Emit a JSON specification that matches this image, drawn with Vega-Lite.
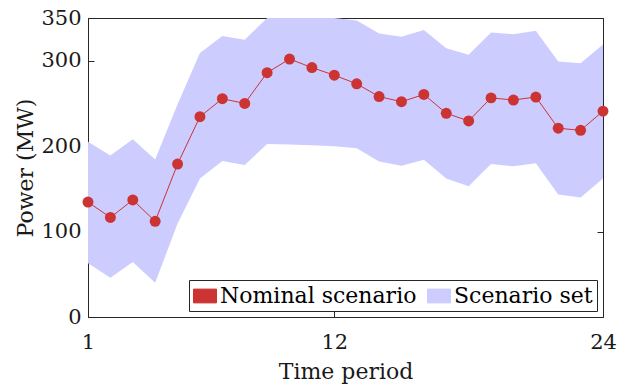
{
  "$schema": "https://vega.github.io/schema/vega-lite/v6.json",
  "autosize": "none",
  "width": 515,
  "height": 299,
  "padding": {"left": 88, "top": 18, "right": 15, "bottom": 70},
  "background": "white",
  "config": {
    "view": {"stroke": null},
    "font": "DejaVu Serif",
    "axis": {
      "grid": false,
      "domainColor": "#262626",
      "domainWidth": 1,
      "tickColor": "#262626",
      "tickWidth": 1,
      "tickSize": -6,
      "labelColor": "#1a1a1a",
      "labelFont": "DejaVu Serif",
      "labelFontSize": 21,
      "titleFont": "DejaVu Serif",
      "titleFontSize": 22,
      "titleFontWeight": "normal",
      "titleColor": "#1a1a1a",
      "zindex": 1
    },
    "legend": {
      "orient": "bottom-right",
      "offset": 6,
      "direction": "horizontal",
      "padding": 4,
      "strokeColor": "#262626",
      "fillColor": "white",
      "labelFont": "DejaVu Serif",
      "labelFontSize": 22,
      "labelColor": "black",
      "labelLimit": 400,
      "labelOffset": 3,
      "columnPadding": 8,
      "symbolSize": 529,
      "symbolStrokeWidth": 1,
      "symbolType": "M-1,-0.6H1V0.6H-1Z"
    }
  },
  "data": {
    "values": [
      {"t": 1, "nominal": 134.5, "lo": 63, "hi": 205},
      {"t": 2, "nominal": 116.5, "lo": 46, "hi": 189},
      {"t": 3, "nominal": 137, "lo": 64.5, "hi": 208},
      {"t": 4, "nominal": 112, "lo": 40, "hi": 184.5},
      {"t": 5, "nominal": 179, "lo": 109.5, "hi": 249},
      {"t": 6, "nominal": 234.5, "lo": 162, "hi": 309},
      {"t": 7, "nominal": 255.5, "lo": 182.5, "hi": 329},
      {"t": 8, "nominal": 250, "lo": 178, "hi": 324.5},
      {"t": 9, "nominal": 286, "lo": 202.5, "hi": 350},
      {"t": 10, "nominal": 302, "lo": 202, "hi": 350},
      {"t": 11, "nominal": 292, "lo": 201, "hi": 350},
      {"t": 12, "nominal": 283, "lo": 200, "hi": 350},
      {"t": 13, "nominal": 273, "lo": 197.5, "hi": 347},
      {"t": 14, "nominal": 258, "lo": 182, "hi": 332},
      {"t": 15, "nominal": 252, "lo": 177, "hi": 328},
      {"t": 16, "nominal": 260.5, "lo": 184, "hi": 336},
      {"t": 17, "nominal": 238.5, "lo": 162, "hi": 314.5},
      {"t": 18, "nominal": 229.5, "lo": 153, "hi": 307},
      {"t": 19, "nominal": 256.5, "lo": 179, "hi": 333},
      {"t": 20, "nominal": 254, "lo": 176.5, "hi": 331},
      {"t": 21, "nominal": 257.5, "lo": 180, "hi": 335},
      {"t": 22, "nominal": 221, "lo": 143.5, "hi": 299},
      {"t": 23, "nominal": 218.5, "lo": 140, "hi": 297},
      {"t": 24, "nominal": 241, "lo": 162, "hi": 319}
    ]
  },
  "resolve": {"axis": {"x": "independent", "y": "independent"}},
  "layer": [
    {
      "mark": {"type": "area", "clip": true, "opacity": 1},
      "encoding": {
        "x": {
          "field": "t", "type": "quantitative",
          "scale": {"domain": [1, 24], "nice": false, "zero": false},
          "axis": {"orient": "bottom", "values": [1, 12, 24], "title": "Time period", "labelPadding": 20, "titlePadding": 9, "labelFlush": false}
        },
        "y": {
          "field": "lo", "type": "quantitative",
          "scale": {"domain": [0, 350], "nice": false},
          "axis": {"orient": "left", "values": [0, 100, 200, 300, 350], "title": "Power (MW)", "labelPadding": 13, "titlePadding": 3, "labelFlush": false}
        },
        "y2": {"field": "hi"},
        "color": {
          "datum": "Scenario set",
          "scale": {"domain": ["Nominal scenario", "Scenario set"], "range": ["#cc3333", "#ccccff"]},
          "legend": {"title": null}
        }
      }
    },
    {
      "mark": {"type": "line", "strokeWidth": 1, "point": {"filled": true, "size": 120, "opacity": 1}},
      "encoding": {
        "x": {
          "field": "t", "type": "quantitative",
          "axis": {"orient": "top", "values": [1, 12, 24], "labels": false, "title": null}
        },
        "y": {
          "field": "nominal", "type": "quantitative",
          "axis": {"orient": "right", "values": [0, 100, 200, 300, 350], "labels": false, "title": null}
        },
        "color": {"datum": "Nominal scenario"}
      }
    }
  ]
}
